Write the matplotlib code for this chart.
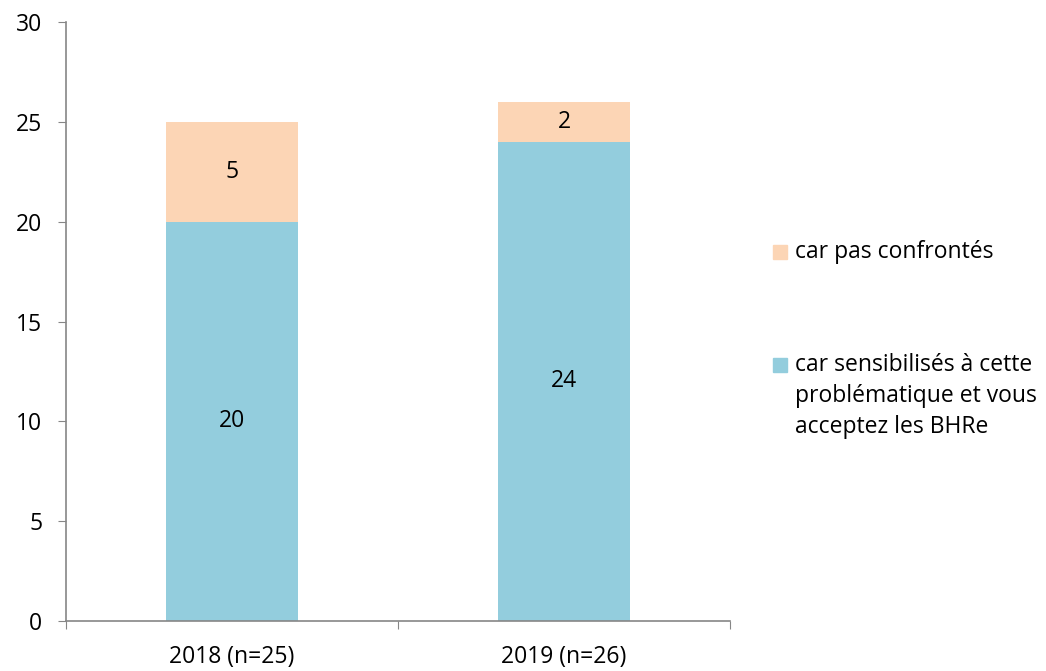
import numpy as np
import matplotlib.pyplot as plt
from matplotlib.patches import Rectangle

# ------------------------------
# Data
# ------------------------------

categories = ["2018 (n=25)", "2019 (n=26)"]
sensibilises = [20, 24]
pas_confrontes = [5, 2]
label_sens = "car sensibilisés à cette\nproblématique et vous\nacceptez les BHRe"
label_pas = "car pas confrontés"

blue = "#93CDDD"
orange = "#FCD5B5"
grey = "#868686"
fs = 16.5

plt.rcParams["font.family"] = ["Open Sans", "DejaVu Sans"]

# ------------------------------
# Plot
# ------------------------------

fig = plt.figure(figsize=(10.46, 6.71), dpi=100)
ax = fig.add_axes([0.063, 0.0745, 0.635, 0.8925])

x = np.arange(len(categories))
b1 = ax.bar(x, sensibilises, width=0.4, color=blue, label=label_sens)
b2 = ax.bar(x, pas_confrontes, width=0.4, bottom=sensibilises, color=orange, label=label_pas)

for rect, v in zip(b1, sensibilises):
    ax.text(rect.get_x() + rect.get_width() / 2, v / 2, str(v),
            ha="center", va="center", fontsize=fs)
for rect, v, b in zip(b2, pas_confrontes, sensibilises):
    ax.text(rect.get_x() + rect.get_width() / 2, b + v / 2, str(v),
            ha="center", va="center", fontsize=fs)

ax.set_xlim(-0.5, len(categories) - 0.5)
ax.set_ylim(0, 30)
ax.set_yticks(range(0, 31, 5))
ax.set_xticks([-0.5, 0.5, 1.5])
ax.set_xticklabels([])
ax.set_xticks(x, minor=True)
ax.set_xticklabels(categories, minor=True, fontsize=fs)
ax.tick_params(axis="x", which="minor", length=0, pad=17)
ax.tick_params(axis="x", which="major", length=6, color=grey, direction="out")
ax.tick_params(axis="y", length=6, color=grey, direction="out", labelsize=fs, pad=11)

for s in ["top", "right"]:
    ax.spines[s].set_visible(False)
for s in ["left", "bottom"]:
    ax.spines[s].set_color(grey)
    ax.spines[s].set_linewidth(1.2)

# ------------------------------
# Legend (drawn by hand, handle at first line)
# ------------------------------

W, H = 1046, 671
entries = [(orange, label_pas, 252), (blue, label_sens, 365)]
for color, label, ytop in entries:
    fig.patches.append(Rectangle((773 / W, 1 - (ytop + 7) / H), 14 / W, 14 / H,
                                 transform=fig.transFigure, color=color))
    for i, line in enumerate(label.split("\n")):
        fig.text(795 / W, 1 - (ytop + i * 31) / H, line, fontsize=fs,
                 ha="left", va="center")

plt.savefig("out.png", dpi=100)
